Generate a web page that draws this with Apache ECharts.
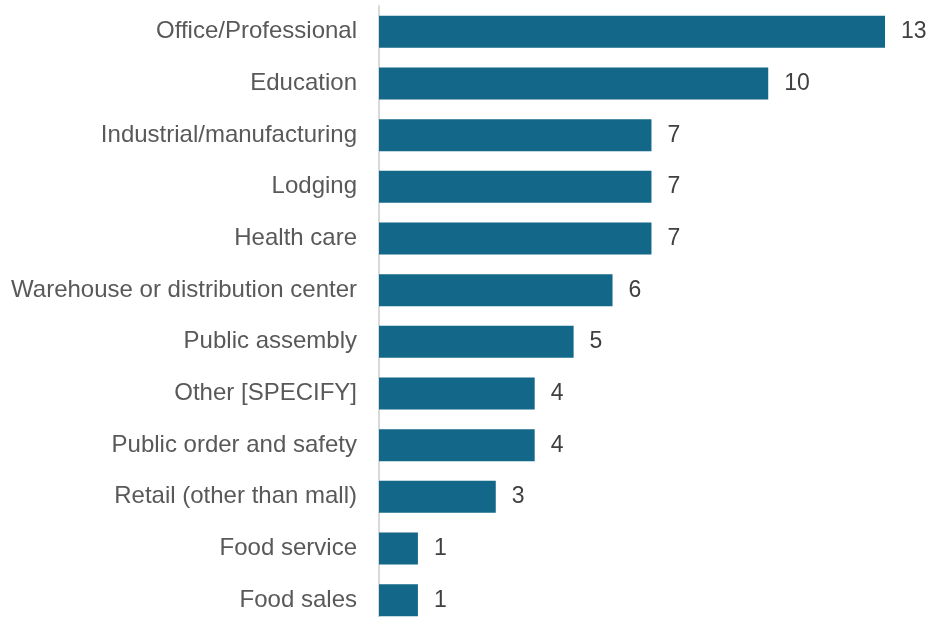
<!DOCTYPE html>
<html>
<head>
<meta charset="utf-8">
<script src="https://cdn.jsdelivr.net/npm/echarts@6/dist/echarts.min.js"></script>
<style>
  html, body { margin: 0; padding: 0; background: #ffffff; }
  #chart { width: 930px; height: 617px; }
</style>
</head>
<body>
<div id="chart"></div>
<script>
// Building types, listed top to bottom
const categories = [
  'Office/Professional',
  'Education',
  'Industrial/manufacturing',
  'Lodging',
  'Health care',
  'Warehouse or distribution center',
  'Public assembly',
  'Other [SPECIFY]',
  'Public order and safety',
  'Retail (other than mall)',
  'Food service',
  'Food sales'
];
const counts = [13, 10, 7, 7, 7, 6, 5, 4, 4, 3, 1, 1];

const chart = echarts.init(document.getElementById('chart'), null, { renderer: 'canvas' });

chart.setOption({
  animation: false,
  backgroundColor: '#ffffff',
  grid: {
    left: 379, right: 45, top: 6, height: 620,
    containLabel: false,
    outerBoundsMode: 'none'
  },
  xAxis: {
    type: 'value',
    min: 0,
    max: 13,
    show: false
  },
  yAxis: {
    type: 'category',
    data: categories,
    inverse: true,
    axisLine: { show: true, lineStyle: { color: '#d9d9d9', width: 2 } },
    axisTick: { show: false },
    axisLabel: {
      margin: 22,
      color: '#595959',
      fontFamily: 'Liberation Sans, Arial, sans-serif',
      fontSize: 24
    }
  },
  series: [{
    type: 'bar',
    data: counts,
    barCategoryGap: '38%',
    itemStyle: { color: '#136789' },
    label: {
      show: true,
      position: 'right',
      distance: 16,
      color: '#404040',
      fontFamily: 'Liberation Sans, Arial, sans-serif',
      fontSize: 23
    }
  }]
});
</script>
</body>
</html>
